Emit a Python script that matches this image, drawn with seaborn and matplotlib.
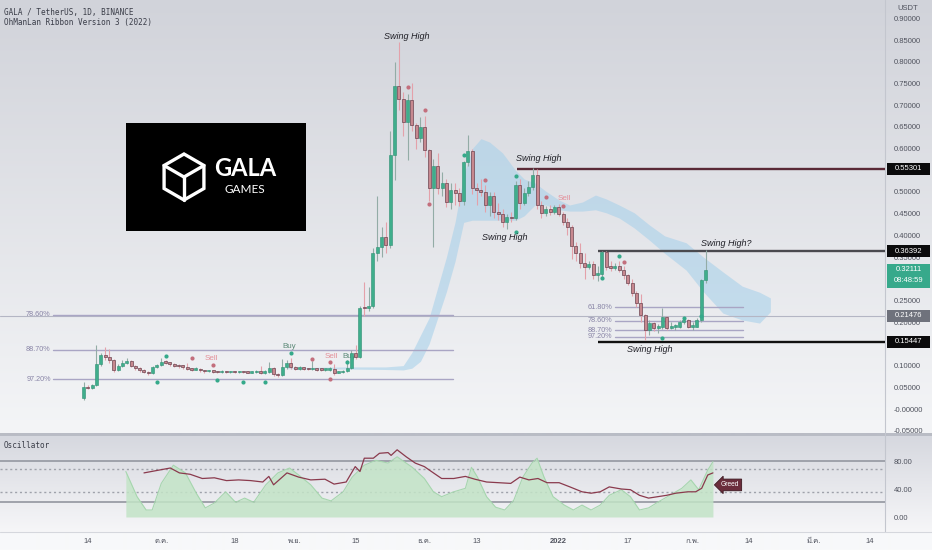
import numpy as np
import pandas as pd
import matplotlib
matplotlib.use("Agg")
import matplotlib.pyplot as plt
import seaborn as sns
from matplotlib import font_manager
from matplotlib.ft2font import FT2Font
from matplotlib.patches import Polygon, Rectangle

# ---- data ----
start_date = "2021-09-13"
first_open = 0.025
closes = [0.050, 0.048, 0.055, 0.104, 0.124, 0.120, 0.113, 0.090, 0.099, 0.106,
          0.111, 0.099, 0.094, 0.090, 0.086, 0.082, 0.097, 0.101, 0.109, 0.107,
          0.104, 0.100, 0.099, 0.097, 0.092, 0.091, 0.093, 0.089, 0.087, 0.088,
          0.086, 0.085, 0.086, 0.085, 0.086, 0.085, 0.086, 0.085, 0.084, 0.085,
          0.086, 0.083, 0.085, 0.094, 0.081, 0.078, 0.096, 0.107, 0.096, 0.093,
          0.095, 0.093, 0.092, 0.093, 0.091, 0.090, 0.090, 0.092, 0.084, 0.085,
          0.087, 0.095, 0.128, 0.120, 0.233, 0.232, 0.237, 0.360, 0.373, 0.396,
          0.378, 0.585, 0.744, 0.714, 0.661, 0.712, 0.654, 0.624, 0.650, 0.597,
          0.509, 0.560, 0.509, 0.520, 0.477, 0.505, 0.498, 0.480, 0.570, 0.595,
          0.510, 0.505, 0.500, 0.470, 0.490, 0.455, 0.450, 0.432, 0.442, 0.440,
          0.516, 0.475, 0.498, 0.512, 0.540, 0.470, 0.452, 0.460, 0.455, 0.465,
          0.450, 0.431, 0.420, 0.375, 0.360, 0.336, 0.327, 0.334, 0.309, 0.310,
          0.362, 0.327, 0.325, 0.330, 0.320, 0.309, 0.290, 0.267, 0.244, 0.217,
          0.182, 0.198, 0.187, 0.190, 0.212, 0.187, 0.190, 0.190, 0.200, 0.205,
          0.190, 0.190, 0.205, 0.297, 0.321]
highs = [0.062, 0.056, 0.058, 0.147, 0.130, 0.143, 0.138, 0.115, 0.103, 0.112,
         0.118, 0.114, 0.101, 0.097, 0.092, 0.088, 0.099, 0.104, 0.118, 0.113,
         0.109, 0.106, 0.104, 0.101, 0.106, 0.095, 0.096, 0.095, 0.091, 0.091,
         0.090, 0.088, 0.089, 0.088, 0.088, 0.087, 0.088, 0.087, 0.087, 0.087,
         0.090, 0.100, 0.090, 0.108, 0.097, 0.084, 0.115, 0.112, 0.118, 0.100,
         0.098, 0.097, 0.095, 0.110, 0.095, 0.093, 0.093, 0.096, 0.104, 0.088,
         0.091, 0.112, 0.135, 0.147, 0.238, 0.293, 0.280, 0.370, 0.490, 0.420,
         0.430, 0.640, 0.800, 0.845, 0.730, 0.725, 0.750, 0.660, 0.672, 0.675,
         0.600, 0.575, 0.590, 0.545, 0.530, 0.520, 0.520, 0.510, 0.572, 0.631,
         0.600, 0.520, 0.530, 0.515, 0.500, 0.500, 0.475, 0.460, 0.450, 0.455,
         0.525, 0.530, 0.510, 0.525, 0.555, 0.553, 0.480, 0.468, 0.470, 0.470,
         0.472, 0.455, 0.440, 0.425, 0.385, 0.382, 0.360, 0.340, 0.340, 0.330,
         0.364, 0.364, 0.340, 0.336, 0.342, 0.330, 0.312, 0.300, 0.272, 0.265,
         0.220, 0.205, 0.200, 0.195, 0.233, 0.215, 0.200, 0.196, 0.205, 0.212,
         0.207, 0.200, 0.210, 0.300, 0.366]
lows = [0.020, 0.045, 0.047, 0.053, 0.100, 0.112, 0.105, 0.085, 0.087, 0.096,
        0.104, 0.096, 0.090, 0.086, 0.083, 0.079, 0.080, 0.095, 0.100, 0.103,
        0.100, 0.097, 0.095, 0.093, 0.089, 0.087, 0.089, 0.086, 0.084, 0.085,
        0.083, 0.082, 0.083, 0.083, 0.084, 0.082, 0.083, 0.083, 0.082, 0.083,
        0.083, 0.080, 0.081, 0.083, 0.075, 0.073, 0.077, 0.093, 0.093, 0.090,
        0.091, 0.090, 0.089, 0.090, 0.088, 0.087, 0.088, 0.088, 0.078, 0.082,
        0.083, 0.085, 0.093, 0.115, 0.118, 0.215, 0.225, 0.232, 0.340, 0.350,
        0.360, 0.370, 0.528, 0.690, 0.630, 0.574, 0.640, 0.600, 0.615, 0.580,
        0.480, 0.373, 0.495, 0.490, 0.465, 0.460, 0.470, 0.468, 0.470, 0.560,
        0.495, 0.470, 0.490, 0.455, 0.445, 0.440, 0.435, 0.420, 0.415, 0.430,
        0.435, 0.460, 0.470, 0.490, 0.505, 0.460, 0.440, 0.445, 0.448, 0.450,
        0.445, 0.425, 0.400, 0.345, 0.340, 0.325, 0.300, 0.322, 0.300, 0.295,
        0.300, 0.320, 0.318, 0.320, 0.315, 0.300, 0.285, 0.260, 0.235, 0.200,
        0.159, 0.170, 0.180, 0.175, 0.185, 0.183, 0.184, 0.183, 0.186, 0.195,
        0.186, 0.183, 0.188, 0.200, 0.290]

# price scale labels (the ones hidden behind the value tags are left out)
price_ticks = [-0.05, 0.0, 0.05, 0.10, 0.20, 0.25, 0.35, 0.40,
               0.45, 0.50, 0.60, 0.65, 0.70, 0.75, 0.80, 0.85, 0.90]
price_labels = ["-0.05000", "-0.00000", "0.05000", "0.10000", "0.20000",
                "0.25000", "0.35000", "0.40000", "0.45000", "0.50000",
                "0.60000", "0.65000", "0.70000", "0.75000", "0.80000",
                "0.85000", "0.90000"]

date_ticks = ["2021-09-14", "2021-10-01", "2021-10-18", "2021-11-01", "2021-11-15",
              "2021-12-01", "2021-12-13", "2022-01-01", "2022-01-17", "2022-02-01",
              "2022-02-14", "2022-03-01", "2022-03-14"]
date_labels = ["14", "ต.ค.", "18", "พ.ย.", "15", "ธ.ค.", "13", "2022", "17", "ก.พ.",
               "14", "มี.ค.", "14"]

# horizontal levels
swing_levels = [0.55301, 0.36392, 0.15447]
swing_from = [100.3, 119.1, 119.1]
swing_colors = ["#5a2936", "#4a4a4f", "#111111"]
mark_level = 0.21476
last_price = 0.32111

fib_left_names = ["78.60%", "88.70%", "97.20%"]
fib_left_levels = [0.2166, 0.136, 0.069]
fib_right_names = ["61.80%", "78.60%", "88.70%", "97.20%"]
fib_right_levels = [0.235, 0.203, 0.182, 0.166]

# ribbon (cloud)
ribbon_bar = [47, 61, 70, 74, 76, 78, 80, 82, 84, 86, 88, 90, 92, 94, 97, 100, 102,
              104.5, 107, 110, 112.5, 115.5, 118.5, 121, 124, 127.5, 131, 134.5,
              139.5, 143.5, 148, 152.5, 156.5, 159]
ribbon_top = [0.095, 0.097, 0.097, 0.10, 0.13, 0.17, 0.21, 0.28, 0.35, 0.43, 0.54,
              0.60, 0.623, 0.615, 0.59, 0.55, 0.53, 0.521, 0.502, 0.482, 0.47, 0.477,
              0.493, 0.484, 0.47, 0.452, 0.424, 0.399, 0.383, 0.35, 0.316, 0.283,
              0.269, 0.256]
ribbon_bot = [0.093, 0.092, 0.091, 0.09, 0.094, 0.11, 0.15, 0.21, 0.27, 0.34, 0.43,
              0.435, 0.435, 0.435, 0.435, 0.435, 0.445, 0.47, 0.47, 0.459, 0.456,
              0.456, 0.459, 0.452, 0.44, 0.417, 0.389, 0.359, 0.32, 0.27, 0.221,
              0.205, 0.198, 0.224]

# signal dots
buy_bar = [17, 19, 31, 37, 42, 48, 61, 88, 100, 100, 120, 124, 134, 139, 143]
buy_px = [0.062, 0.122, 0.067, 0.062, 0.062, 0.129, 0.108, 0.585, 0.408, 0.537,
          0.302, 0.352, 0.164, 0.210, 0.214]
sell_bar = [25, 30, 53, 57, 57, 75, 79, 80, 93, 107, 111, 125]
sell_px = [0.117, 0.101, 0.115, 0.108, 0.069, 0.742, 0.690, 0.472, 0.528, 0.489,
           0.468, 0.339]
signal_words = [("Sell", 29.7, 0.1175), ("Buy", 47.6, 0.143), ("Sell", 57.3, 0.120),
                ("Buy", 61.5, 0.122), ("Sell", 111.2, 0.486)]

# oscillator
osc_fill_bar = [9.8, 12.4, 14.5, 15.9, 18.0, 20.8, 23.6, 26.1, 28.2, 30.3, 32.9, 35.2,
                37.3, 39.4, 42.2, 45.0, 47.7, 49.8, 52.6, 55.2, 57.3, 60.1, 62.2,
                65.0, 67.7, 70.5, 72.6, 76.1, 78.9, 81.0, 82.9, 85.7, 88.4, 89.8,
                91.2, 93.3, 95.4, 97.5, 99.6, 101.7, 103.8, 105.0, 106.6, 108.7,
                111.3, 113.4, 115.4, 117.5, 119.6, 121.7, 124.5, 126.6, 128.7,
                130.8, 132.9, 135.7, 138.5, 140.6, 142.4, 144.5, 145.7]
osc_fill = [65, 29, 10, 10, 48, 74, 63, 34, 13, 20, 36, 21, 27, 21, 46, 63, 70, 60,
            46, 27, 23, 36, 57, 74, 81, 77, 86, 71, 55, 36, 29, 36, 41, 71, 57, 29,
            14, 10, 24, 57, 77, 84, 57, 29, 17, 10, 17, 10, 17, 31, 39, 29, 10, 13,
            21, 31, 41, 53, 39, 67, 79]
osc_line_bar = [14.0, 16.6, 20.1, 22.2, 24.7, 27.5, 30.3, 33.1, 35.9, 38.7, 41.5,
                42.9, 44.0, 47.1, 49.8, 52.6, 55.9, 58.0, 60.8, 62.9, 64.0, 65.0,
                67.1, 68.5, 70.5, 71.2, 72.6, 74.7, 76.8, 78.9, 81.0, 82.9, 85.7,
                88.4, 90.6, 93.3, 96.1, 98.9, 101.0, 103.1, 105.2, 107.3, 110.1,
                112.6, 115.4, 117.5, 119.6, 121.7, 124.5, 126.6, 128.7, 130.8,
                132.9, 135.0, 137.1, 139.9, 141.7, 143.1, 144.5, 145.7]
osc_line = [63, 66, 70, 63, 61, 55, 56, 52, 53, 52, 50, 58, 46, 63, 57, 53, 54, 47,
            50, 72, 65, 84, 84, 91, 92, 88, 96, 86, 77, 72, 63, 55, 55, 58, 54, 50,
            49, 48, 57, 53, 55, 49, 49, 43, 36, 34, 36, 43, 40, 39, 31, 27, 29, 31,
            34, 36, 36, 41, 60, 63]
osc_levels = [80, 68, 36, 21]
osc_ticks = [0, 40, 80]
osc_tick_labels = ["0.00", "40.00", "80.00"]


def font_with(ch):
    for f in font_manager.fontManager.ttflist:
        try:
            if ord(ch) in FT2Font(f.fname).get_charmap():
                return f.name
        except Exception:
            continue
    return None


sns.set_theme(style="white")
plt.rcParams["font.family"] = ["Liberation Sans", "DejaVu Sans"]
thai = font_with("ต")
date_family = ["Liberation Sans"] + ([thai] if thai else []) + ["DejaVu Sans"]

W, H = 932, 550
TXT = "#50535e"
MONO = "DejaVu Sans Mono"


def box(x0, y0, x1, y1):
    return [x0 / W, 1 - y1 / H, (x1 - x0) / W, (y1 - y0) / H]


fig = plt.figure(figsize=(W / 100, H / 100), dpi=100)

# background gradients
bg = fig.add_axes([0, 0, 1, 1])


def vgrad(top, bottom, n):
    a = np.array(matplotlib.colors.to_rgb(top))
    b = np.array(matplotlib.colors.to_rgb(bottom))
    t = np.linspace(0, 1, n)[:, None]
    return a + (b - a) * t


img = np.vstack([vgrad("#d1d3da", "#f4f5f7", 433), vgrad("#b9bcc5", "#b9bcc5", 3),
                 vgrad("#d6d8df", "#f6f6f8", 96), vgrad("#f7f8fa", "#f8f9fa", 18)])
bg.imshow(img[:, None, :], extent=(0, W, H, 0), aspect="auto", interpolation="bilinear")
bg.plot([885, 885], [0, 532], color="#c3c6ce", lw=0.8)
bg.plot([0, W], [532, 532], color="#d5d7dd", lw=0.8)
bg.set_xlim(0, W)
bg.set_ylim(H, 0)
bg.axis("off")

# ---- price pane ----
X0, DX = 83.5, 4.32
xlim = (-X0 / DX, (885 - X0) / DX)
ax = fig.add_axes(box(0, 0, 885, 433))
ax.patch.set_alpha(0)
ax.set_xlim(*xlim)
ax.set_ylim((409 - 433) / 434, 409 / 434)
for s in ax.spines.values():
    s.set_visible(False)

n = len(closes)
bars = np.arange(n)
c = np.array(closes)
o = np.array([first_open] + closes[:-1])
hi = np.array(highs)
lo = np.array(lows)
up = c >= o

ax.fill_between(ribbon_bar, ribbon_bot, ribbon_top, color="#a9d1ea", alpha=0.6, lw=0, zorder=1)

ax.axhline(mark_level, color="#b4b6c4", lw=0.8, zorder=1)
for name, lev in zip(fib_left_names, fib_left_levels):
    ax.plot([-7.0, 85.5], [lev, lev], color="#a9a5c4", lw=1.0, zorder=1)
    ax.text(-7.6, lev, name, ha="right", va="center", fontsize=5.2, color="#8884a6")
for name, lev in zip(fib_right_names, fib_right_levels):
    ax.plot([123.0, 152.7], [lev, lev], color="#a9a5c4", lw=1.0, zorder=1)
    ax.text(122.4, lev, name, ha="right", va="center", fontsize=5.2, color="#8884a6")
for lev, x0, col in zip(swing_levels, swing_from, swing_colors):
    ax.plot([x0, xlim[1]], [lev, lev], color=col, lw=1.7, zorder=2, solid_capstyle="butt")

for word, b, p in signal_words:
    col = "#e4909a" if word == "Sell" else "#5d8a78"
    ax.text(b, p, word, ha="center", va="center", fontsize=5.8, color=col, zorder=2)

# candles
ax.vlines(bars[up], lo[up], hi[up], color="#93aca6", lw=0.8, zorder=3)
ax.vlines(bars[~up], lo[~up], hi[~up], color="#e4a1aa", lw=0.8, zorder=3)
body_lo = np.minimum(o, c)
body_h = np.maximum(np.abs(c - o), 0.0035)
ax.bar(bars[up], body_h[up], bottom=body_lo[up], width=0.7, color="#3fae8c",
       edgecolor="#2f8f73", lw=0.4, zorder=4)
ax.bar(bars[~up], body_h[~up], bottom=body_lo[~up], width=0.7, color="#c7888f",
       edgecolor="#6c4450", lw=0.5, zorder=4)

sns.scatterplot(x=buy_bar, y=buy_px, ax=ax, color="#35a98a", s=9, linewidth=0,
                zorder=5, legend=False)
sns.scatterplot(x=sell_bar, y=sell_px, ax=ax, color="#c36f7d", s=9, linewidth=0,
                zorder=5, legend=False)

swing_notes = [("Swing High", 73, hi[73], 8, 6), ("Swing High", 105, hi[105], 2, 10),
               ("Swing High", 98, lo[98], -2, -9), ("Swing High", 130, lo[130], 5, -10),
               ("Swing High?", 144, hi[144], 21, 7)]
for txt, b, p, dx, dy in swing_notes:
    ax.annotate(txt, xy=(b, p), xytext=(dx, dy), textcoords="offset pixels",
                ha="center", va="center", fontsize=6.5, style="italic",
                color="#1f1f26", zorder=6)

ax.yaxis.tick_right()
ax.set_yticks(price_ticks)
ax.set_yticklabels(price_labels)
ax.tick_params(axis="y", length=0, pad=6.5, labelsize=5.5, labelcolor=TXT)
ax.tick_params(axis="x", length=0, labelbottom=False)

PX = 434.0  # pixels per price unit


def axis_tag(p, text, fc, h=12, dy=0):
    ax.add_patch(Rectangle((887 / 885, p - (h / 2 + dy) / PX), 43 / 885, h / PX,
                           transform=ax.get_yaxis_transform(), facecolor=fc,
                           edgecolor="none", clip_on=False, zorder=10))
    ax.text(908.5 / 885, p, text, transform=ax.get_yaxis_transform(), ha="center",
            va="center", fontsize=5.5, color="white", zorder=11, clip_on=False)


axis_tag(swing_levels[0], "0.55301", "#0b0b0c")
axis_tag(swing_levels[1], "0.36392", "#0b0b0c")
axis_tag(swing_levels[2], "0.15447", "#0b0b0c")
axis_tag(mark_level, "0.21476", "#6f727c")
axis_tag(last_price, "0.32111", "#37a98b", h=24, dy=6)
ax.text(908.5 / 885, last_price - 11 / PX, "08:48:59", transform=ax.get_yaxis_transform(),
        ha="center", va="center", fontsize=5.5, color="white", zorder=11, clip_on=False)

# ---- oscillator pane ----
ax2 = fig.add_axes(box(0, 436, 885, 532))
ax2.patch.set_alpha(0)
ax2.set_xlim(*xlim)
ax2.set_ylim((517 - 532) / 0.7, (517 - 436) / 0.7)
for s in ax2.spines.values():
    s.set_visible(False)
for lev in osc_levels:
    if lev in (80, 21):
        ax2.axhline(lev, color="#9fa2ab", lw=1.4, zorder=1)
    else:
        ax2.axhline(lev, color="#9fa2ab", lw=1.0, ls=(0, (1.5, 2)), zorder=1)
ax2.fill_between(osc_fill_bar, 0, osc_fill, color="#c3e4c7", alpha=0.85, lw=0, zorder=2)
ax2.plot(osc_fill_bar, osc_fill, color="#a6d6ae", lw=0.8, zorder=2)
sns.lineplot(x=osc_line_bar, y=osc_line, ax=ax2, color="#8a3a4d", lw=0.9, zorder=3)
ax2.annotate("Greed", xy=(osc_line_bar[-1], osc_line[-1]), xytext=(8, -12),
             textcoords="offset pixels", ha="left", va="center", fontsize=4.8,
             color="white", zorder=6,
             bbox=dict(boxstyle="larrow,pad=0.35", fc="#6b2d3c", ec="#3d1921", lw=0.6))

ax2.yaxis.tick_right()
ax2.set_yticks(osc_ticks)
ax2.set_yticklabels(osc_tick_labels)
ax2.tick_params(axis="y", length=0, pad=6.5, labelsize=5.5, labelcolor=TXT)

tick_bars = (pd.to_datetime(date_ticks) - pd.Timestamp(start_date)).days
ax2.set_xticks(tick_bars)
ax2.set_xticklabels(date_labels)
ax2.tick_params(axis="x", length=0, pad=4.5, labelsize=5.5, labelcolor=TXT)
for lab in ax2.get_xticklabels():
    lab.set_fontfamily(date_family)
    if lab.get_text() == "2022":
        lab.set_fontweight("bold")
ax2.set_xlabel("")
ax2.set_ylabel("")

# ---- header texts ----
fig.text(4 / W, 1 - 12 / H, "GALA / TetherUS, 1D, BINANCE", fontsize=5.5,
         family=MONO, color="#3a3d48", va="center")
fig.text(4 / W, 1 - 23 / H, "OhManLan Ribbon Version 3 (2022)", fontsize=5.5,
         family=MONO, color="#3a3d48", va="center")
fig.text(4 / W, 1 - 445 / H, "Oscillator", fontsize=5.5, family=MONO,
         color="#3a3d48", va="center")
fig.text(908 / W, 1 - 9 / H, "USDT", fontsize=5.5, color=TXT, ha="center", va="center")

# ---- GALA logo ----
lg = fig.add_axes(box(126, 123, 306, 231))
lg.set_facecolor("black")
lg.set_xlim(0, 180)
lg.set_ylim(108, 0)
lg.set_xticks([])
lg.set_yticks([])
for s in lg.spines.values():
    s.set_visible(False)
cx, cy, R = 58, 54, 23
ang = np.deg2rad(90 + 60 * np.arange(6))
lg.add_patch(Polygon(np.c_[cx + R * np.cos(ang), cy - R * np.sin(ang)], closed=True,
                     fill=False, ec="white", lw=2.4, joinstyle="miter"))
for a in (150, 30, 270):
    t = np.deg2rad(a)
    lg.plot([cx, cx + R * np.cos(t)], [cy, cy - R * np.sin(t)], color="white", lw=2.4)
lg.text(119, 46, "GALA", color="white", fontsize=17, fontweight="bold",
        family=["Lato", "DejaVu Sans"], ha="center", va="center")
lg.text(119, 67, "GAMES", color="white", fontsize=8.5,
        family=["Lato", "DejaVu Sans"], ha="center", va="center")

fig.savefig("out.png", dpi=100)
